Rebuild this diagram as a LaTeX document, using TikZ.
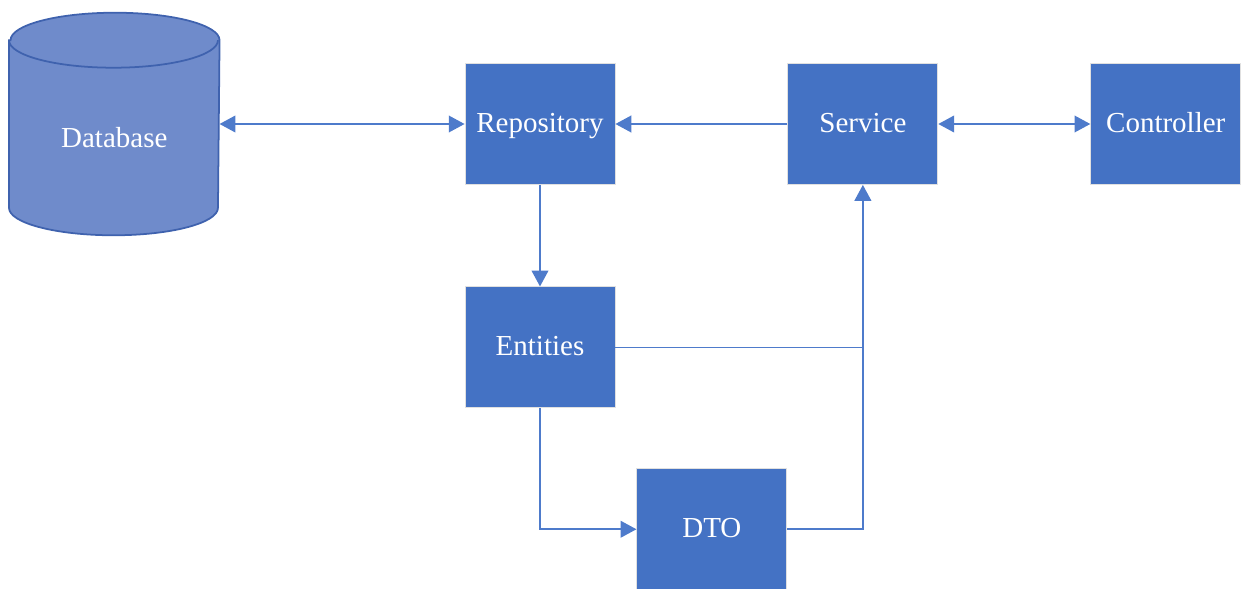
\documentclass[tikz,border=0pt]{standalone}
\usepackage{xcolor}
\usepackage{fontspec}
\setmainfont{Liberation Serif}
\usepackage{tikz}
\usetikzlibrary{arrows.meta,positioning,backgrounds}

\definecolor{boxblue}{HTML}{4472C4}
\definecolor{dbfill}{HTML}{6F8BCB}
\definecolor{dbline}{HTML}{3F62AE}
\definecolor{linkblue}{HTML}{4E7BCB}

\begin{document}
\begin{tikzpicture}[>={Triangle[length=9pt,width=9.5pt]},line width=0.9pt,draw=linkblue,
    layer box/.style={rectangle,fill=boxblue,draw=black!12,line width=0.5pt,text=white,minimum width=3cm,minimum height=2.42cm,text height=13pt,text depth=3.5pt,font=\fontsize{16.5}{20}\selectfont},
    db body/.style={rectangle,minimum width=4.18cm,minimum height=4.42cm,inner sep=0pt},
    db text/.style={text=white,font=\fontsize{16.5}{20}\selectfont}]
    \useasboundingbox (0,0) rectangle (24.82,-11.78);
    \node[layer box] (repo) at (10.8,-2.48) {Repository};
    \node[layer box] (service) [right=3.44cm of repo] {Service};
    \node[layer box] (ctrl) [right=3.04cm of service] {Controller};
    \node[layer box] (ent) [below=2.03cm of repo] {Entities};
    \node[layer box] (dto) [below right=1.2cm and 0.42cm of ent] {DTO};
    \node[db body] (db) [left=4.9cm of repo] {};
    \node[db text] (dblabel) at ([yshift=-0.27cm]db.center) {Database};
    % cylinder drawn behind the label
    \begin{scope}[on background layer]
      \draw[dbline,fill=dbfill,line width=1pt] ([yshift=-0.55cm]db.north west) -- ([yshift=0.55cm]db.south west)
        arc[start angle=180,end angle=360,x radius=2.09cm,y radius=0.55cm] -- ([yshift=-0.55cm]db.north east)
        arc[start angle=0,end angle=180,x radius=2.09cm,y radius=0.55cm] -- cycle;
      \draw[dbline,line width=1pt] ([yshift=-0.55cm]db.north west)
        arc[start angle=180,end angle=360,x radius=2.09cm,y radius=0.55cm];
    \end{scope}
    \coordinate (join) at (ent.east -| service.south);
    \draw[<->] (db.east) -- (repo.west);
    \draw[->] (service) -- (repo);
    \draw[<->] (service) -- (ctrl);
    \draw[->] (repo) -- (ent);
    \draw[->] (ent.east) -- (join) -- (service.south);
    \draw[->] (ent.south) |- (dto.west);
    \draw (dto.east) -| (join);
  \end{tikzpicture}
\end{document}
